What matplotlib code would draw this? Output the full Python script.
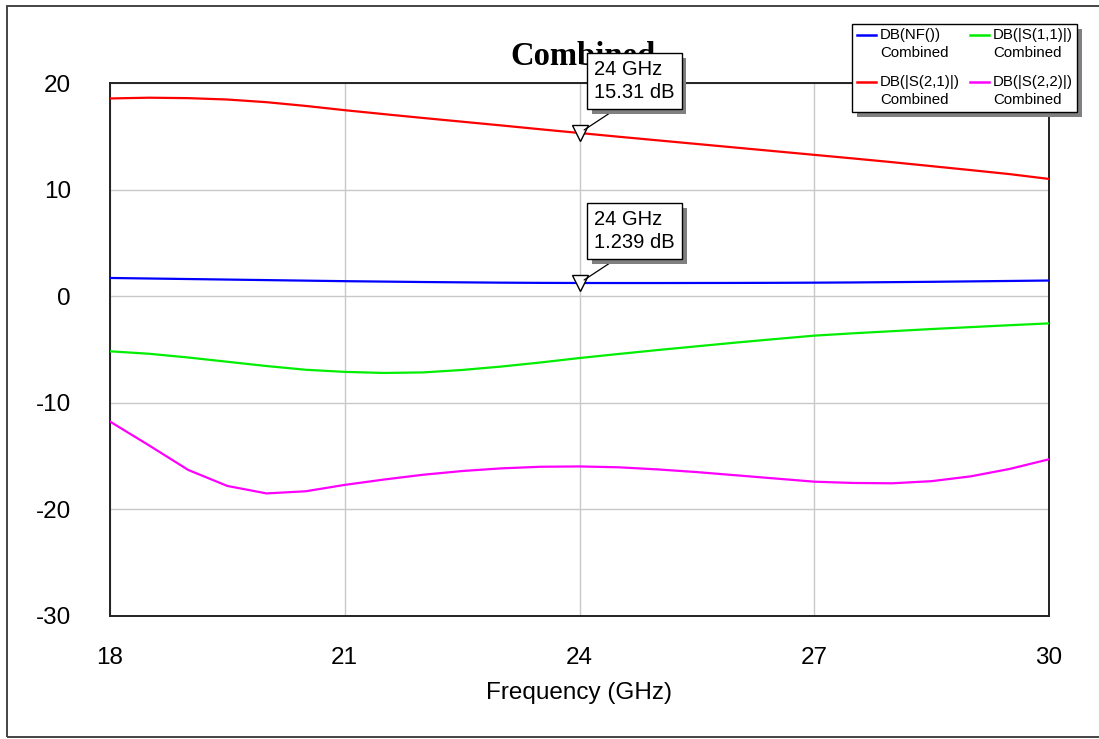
import matplotlib
matplotlib.use("Agg")
import matplotlib.pyplot as plt
import matplotlib.patheffects as pe
from matplotlib.patches import Rectangle
from matplotlib.lines import Line2D

plt.rcParams["axes.unicode_minus"] = False

# Frequency sweep (GHz)
freq = [18.0, 18.5, 19.0, 19.5, 20.0, 20.5, 21.0, 21.5, 22.0, 22.5, 23.0, 23.5,
        24.0, 24.5, 25.0, 25.5, 26.0, 26.5, 27.0, 27.5, 28.0, 28.5, 29.0, 29.5, 30.0]

# Noise figure (dB)
nf_db = [1.71, 1.66, 1.61, 1.56, 1.51, 1.46, 1.41, 1.37, 1.33, 1.30, 1.27, 1.25,
         1.239, 1.235, 1.235, 1.24, 1.245, 1.255, 1.27, 1.29, 1.32, 1.35, 1.39, 1.43, 1.47]

# Gain |S21| (dB)
s21_db = [18.55, 18.62, 18.58, 18.45, 18.2, 17.85, 17.45, 17.08, 16.72, 16.37, 16.02, 15.66,
          15.31, 14.96, 14.62, 14.28, 13.94, 13.6, 13.26, 12.92, 12.57, 12.2, 11.83, 11.45, 11.0]

# Input match |S11| (dB)
s11_db = [-5.17, -5.4, -5.75, -6.15, -6.55, -6.9, -7.1, -7.2, -7.15, -6.92, -6.6, -6.22,
          -5.8, -5.42, -5.05, -4.7, -4.35, -4.02, -3.7, -3.48, -3.28, -3.08, -2.9, -2.72, -2.55]

# Output match |S22| (dB)
s22_db = [-11.76, -14.0, -16.3, -17.8, -18.5, -18.3, -17.7, -17.2, -16.75, -16.4, -16.15, -16.0,
          -15.97, -16.05, -16.25, -16.5, -16.8, -17.1, -17.4, -17.52, -17.55, -17.35, -16.9, -16.2, -15.3]

x_ticks = [18, 21, 24, 27, 30]
y_ticks = [-30, -20, -10, 0, 10, 20]

legend_names = ["DB(NF())", "DB(|S(1,1)|)", "DB(|S(2,1)|)", "DB(|S(2,2)|)"]
legend_sub = "Combined"

marker_freq = 24
marker_nf = 1.239
marker_s21 = 15.31

W, H = 1099, 739
fig = plt.figure(figsize=(W / 100, H / 100), dpi=100)
fig.patch.set_facecolor("white")

def fx(px):
    return px / W

def fy(py):
    return 1 - py / H

ax = fig.add_axes([fx(110), fy(616), fx(1049) - fx(110), fy(83) - fy(616)])

lw = 1.6
ax.plot(freq, s21_db, color="#ff0000", lw=lw, zorder=3)
ax.plot(freq, nf_db, color="#0000ff", lw=lw, zorder=3)
ax.plot(freq, s11_db, color="#00ee00", lw=lw, zorder=3)
ax.plot(freq, s22_db, color="#ff00ff", lw=lw, zorder=3)

ax.set_xlim(18, 30)
ax.set_ylim(-30, 20)
ax.set_xticks(x_ticks)
ax.set_yticks(y_ticks)
ax.grid(True, color="#c8c8c8", lw=1.0, zorder=0)
ax.tick_params(length=0, labelsize=17.5, pad=22)
ax.tick_params(axis="y", pad=28)
for lab in ax.get_xticklabels() + ax.get_yticklabels():
    lab.set_family("Liberation Sans")
for sp in ax.spines.values():
    sp.set_color("#222222")
    sp.set_linewidth(1.4)

ax.set_xlabel("Frequency (GHz)", fontsize=17.5, family="Liberation Sans", labelpad=10)

# Title sits behind the marker readout
ax.text(0.504, 1.033, "Combined", transform=ax.transAxes, ha="center", va="baseline",
        fontsize=23.5, fontweight="bold", family="Liberation Serif", zorder=1, clip_on=False)

shadow = [pe.SimplePatchShadow(offset=(3.5, -3.5), shadow_rgbFace="#808080", alpha=1.0), pe.Normal()]

def marker_readout(val, box_left_px, box_center_py):
    ax.plot([marker_freq], [val], marker="v", ms=11, mfc="white", mec="black", mew=1.0,
            zorder=6, clip_on=False)
    ann = ax.annotate(f"{marker_freq} GHz\n{val} dB", xy=(marker_freq, val),
                      xytext=(box_left_px, H - box_center_py), textcoords="figure pixels",
                      ha="left", va="center", fontsize=14.5, family="Liberation Sans",
                      linespacing=1.3,
                      bbox=dict(boxstyle="square,pad=0.35", fc="white", ec="black", lw=1.0),
                      arrowprops=dict(arrowstyle="-", color="black", lw=0.9,
                                      relpos=(0.4, 0.0), shrinkA=0, shrinkB=4),
                      zorder=8, annotation_clip=False)
    ann.get_bbox_patch().set_path_effects(shadow)

marker_readout(marker_s21, 594, 81)
marker_readout(marker_nf, 594, 231)

# Legend panel
lx0, ly0, lx1, ly1 = 852, 24, 1077, 112
box = Rectangle((fx(lx0), fy(ly1)), fx(lx1) - fx(lx0), fy(ly0) - fy(ly1),
                transform=fig.transFigure, fc="white", ec="black", lw=1.0, zorder=10)
box.set_path_effects(shadow)
fig.add_artist(box)

legend_colors = ["#0000ff", "#00ee00", "#ff0000", "#ff00ff"]
col_x = [857, 970]
row_y = [35, 82]
for i, (name, col) in enumerate(zip(legend_names, legend_colors)):
    cx = col_x[i % 2]
    ry = row_y[i // 2]
    fig.add_artist(Line2D([fx(cx), fx(cx + 19)], [fy(ry), fy(ry)], transform=fig.transFigure,
                          color=col, lw=1.8, zorder=11))
    fig.text(fx(cx + 23), fy(ry), name, ha="left", va="center", fontsize=10.8,
             family="Liberation Sans", zorder=11)
    fig.text(fx(cx + 23), fy(ry + 18), legend_sub, ha="left", va="center", fontsize=10.8,
             family="Liberation Sans", zorder=11)

# Outer frame
frame = Rectangle((fx(7), fy(737)), 1.2, fy(6) - fy(737), transform=fig.transFigure,
                  fc="none", ec="#444444", lw=1.4, zorder=12, clip_on=False)
fig.add_artist(frame)

fig.savefig("out.png", dpi=100)
